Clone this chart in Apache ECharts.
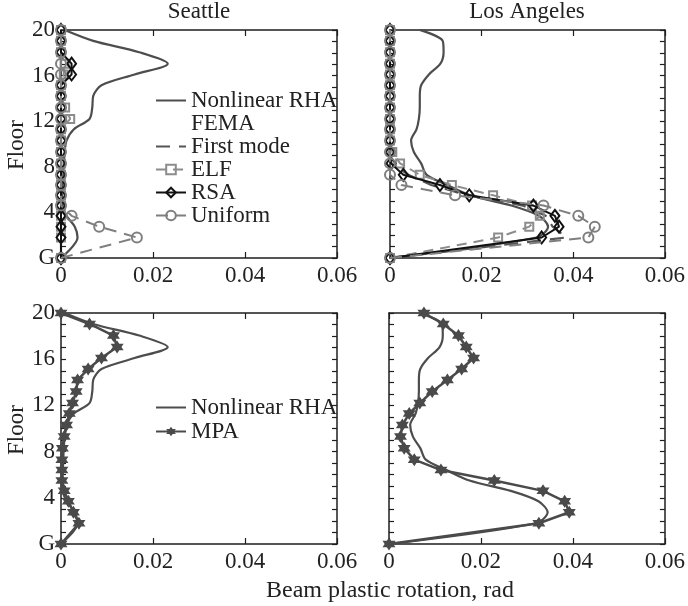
<!DOCTYPE html>
<html><head><meta charset="utf-8">
<script src="https://cdn.jsdelivr.net/npm/echarts@6/dist/echarts.min.js"></script>
<style>html,body{margin:0;padding:0;background:#fff}#c{width:688px;height:606px}</style>
</head><body><div id="c"></div>
<script>
// Floor levels (G = 0 ... 20), index 0..20
const LEVELS = [0, 1.8, 2.75, 3.7, 4.6, 5.5, 6.4, 7.3, 8.3, 9.3, 10.3, 11.3, 12.2, 13.2, 14.2, 15.15, 16.1, 17.05, 18.05, 19.05, 20];
const X_TICKS = [0, 0.02, 0.04, 0.06];
const Y_TICK_LABELS = ['G', '4', '8', '12', '16', '20'];
const PANEL_TITLES = ['Seattle', 'Los Angeles'];

// Seattle
const seaRHA     = [0, 0.0036, 0.0030, 0.0012, 0.0004, 0.0003, 0.0004, 0.0005, 0.0006, 0.0008, 0.0012, 0.0028, 0.0062, 0.0068, 0.0070, 0.0088, 0.0160, 0.0232, 0.0170, 0.0070, 0.0008];
const seaFirst   = [0, 0, 0, 0, 0, 0, 0, 0, 0, 0, 0, 0, 0, 0, 0, 0, 0, 0, 0, 0, 0];
const seaELF     = [0, 0, 0, 0, 0, 0, 0, 0, 0, 0, 0, 0, 0.0020, 0.0009, 0, 0, 0.0006, 0.0008, 0, 0, 0];
const seaRSA     = [0, 0, 0, 0, 0, 0, 0, 0, 0, 0, 0, 0, 0, 0, 0, 0, 0.0023, 0.0023, 0, 0, 0];
const seaUniform = [0, 0.0165, 0.0083, 0.0023, 0, 0, 0, 0, 0, 0, 0, 0, 0, 0, 0, 0, 0, 0, 0, 0, 0];
const seaMPA     = [0, 0.0039, 0.0027, 0.0016, 0.0007, 0.0002, 0.0002, 0.0002, 0.0003, 0.0007, 0.0012, 0.0018, 0.0025, 0.0033, 0.0036, 0.0059, 0.0088, 0.0122, 0.0114, 0.0062, 0];

// Los Angeles
const laRHA     = [0, 0.0320, 0.0345, 0.0325, 0.0265, 0.0175, 0.0125, 0.0080, 0.0068, 0.0052, 0.0046, 0.0058, 0.0063, 0.0065, 0.0065, 0.0068, 0.0085, 0.0110, 0.0117, 0.0115, 0.0065];
const laFirst   = [0, 0.0385, 0.0355, 0.0340, 0.0290, 0.0170, 0.0090, 0.0040, 0.0003, 0, 0, 0, 0, 0, 0, 0, 0, 0, 0, 0, 0];
const laELF     = [0, 0.0236, 0.0304, 0.0327, 0.0310, 0.0225, 0.0135, 0.0065, 0.0022, 0.0005, 0, 0, 0, 0, 0, 0, 0, 0, 0, 0, 0];
const laRSA     = [0, 0.0331, 0.0369, 0.0360, 0.0313, 0.0173, 0.0109, 0.0029, 0.0002, 0, 0, 0, 0, 0, 0, 0, 0, 0, 0, 0, 0];
const laUniform = [0, 0.0433, 0.0447, 0.0411, 0.0335, 0.0142, 0.0025, 0, 0, 0, 0, 0, 0, 0, 0, 0, 0, 0, 0, 0, 0];
const laMPA     = [0, 0.0326, 0.0392, 0.0382, 0.0335, 0.0229, 0.0113, 0.0055, 0.0033, 0.0025, 0.0029, 0.0044, 0.0067, 0.0094, 0.0127, 0.0158, 0.0184, 0.0168, 0.0151, 0.0118, 0.0076];

const FONT = '"Liberation Serif", "Times New Roman", serif';
const FS = 23;
const AX = '#1e1e1e';
const STAR = 'path://M0,-10L2.89,-5L8.66,-5L5.77,0L8.66,5L2.89,5L0,10L-2.89,5L-8.66,5L-5.77,0L-8.66,-5L-2.89,-5Z';

const grids = [
  {left: 61, top: 30, width: 276, height: 228},
  {left: 390, top: 30, width: 275, height: 228},
  {left: 61, top: 313, width: 276, height: 231},
  {left: 389, top: 313, width: 277, height: 231}
];

const xAxes = [], yAxes = [];
grids.forEach((g, i) => {
  const base = {
    type: 'value', gridIndex: i, min: 0, max: 0.06, interval: 0.02,
    axisLine: {show: true, onZero: false, lineStyle: {color: AX, width: 1.5}},
    axisTick: {show: true, inside: true, length: 6, lineStyle: {color: AX, width: 1.2}},
    splitLine: {show: false}
  };
  xAxes.push(Object.assign({}, base, {position: 'bottom',
    axisLabel: {show: true, margin: 6, fontFamily: FONT, fontSize: FS, color: '#222',
      formatter: v => { const k = X_TICKS.findIndex(t => Math.abs(t - v) < 1e-9); return k === 0 ? '0' : X_TICKS[k].toFixed(2); }}}));
  xAxes.push(Object.assign({}, base, {position: 'top', axisLabel: {show: false}}));
  const ybase = {
    type: 'value', gridIndex: i, min: 0, max: 20, interval: 4,
    axisLine: {show: true, onZero: false, lineStyle: {color: AX, width: 1.5}},
    axisTick: {show: true, inside: true, length: 5, lineStyle: {color: AX, width: 1.2}},
    minorTick: {show: true, splitNumber: 4, length: 5, lineStyle: {color: AX, width: 1.2}},
    splitLine: {show: false}, minorSplitLine: {show: false}
  };
  yAxes.push(Object.assign({}, ybase, {position: 'left',
    axisLabel: {show: i % 2 === 0, margin: 6, fontFamily: FONT, fontSize: FS, color: '#222',
      formatter: v => Y_TICK_LABELS[Math.round(v / 4)]}}));
  yAxes.push(Object.assign({}, ybase, {position: 'right', axisLabel: {show: false}}));
});

function pts(vals) { return vals.map((v, i) => [v, LEVELS[i]]); }

function rha(vals, g) {
  return {name: 'Nonlinear RHA', type: 'line', xAxisIndex: 2 * g, yAxisIndex: 2 * g, data: pts(vals),
    smooth: 0.3, symbol: 'none', lineStyle: {color: '#4d4d4d', width: 2.2}, itemStyle: {color: '#4d4d4d'}, z: 2};
}
function first(vals, g) {
  return {name: 'First mode', type: 'line', xAxisIndex: 2 * g, yAxisIndex: 2 * g, data: pts(vals),
    symbol: 'none', lineStyle: {color: '#555', width: 2.2, type: [14, 9]}, itemStyle: {color: '#555'}, z: 3};
}
function elf(vals, g) {
  return {name: 'ELF', type: 'line', xAxisIndex: 2 * g, yAxisIndex: 2 * g, data: pts(vals),
    symbol: 'rect', symbolSize: 8, lineStyle: {color: '#8c8c8c', width: 2, type: [10, 7]},
    itemStyle: {color: 'rgba(255,255,255,0)', borderColor: '#8c8c8c', borderWidth: 2}, z: 4};
}
function rsa(vals, g) {
  return {name: 'RSA', type: 'line', xAxisIndex: 2 * g, yAxisIndex: 2 * g, data: pts(vals),
    symbol: 'diamond', symbolSize: [9, 12], lineStyle: {color: '#111', width: 2},
    itemStyle: {color: 'rgba(255,255,255,0)', borderColor: '#111', borderWidth: 2}, z: 5};
}
function uni(vals, g) {
  return {name: 'Uniform', type: 'line', xAxisIndex: 2 * g, yAxisIndex: 2 * g, data: pts(vals),
    symbol: 'circle', symbolSize: 10, lineStyle: {color: '#7f7f7f', width: 2, type: [12, 8]},
    itemStyle: {color: 'rgba(255,255,255,0)', borderColor: '#7f7f7f', borderWidth: 2}, z: 6};
}
function mpa(vals, g) {
  return {name: 'MPA', type: 'line', xAxisIndex: 2 * g, yAxisIndex: 2 * g, data: pts(vals),
    symbol: STAR, symbolSize: 13, lineStyle: {color: '#4a4a4a', width: 2.5},
    itemStyle: {color: '#4a4a4a'}, z: 4};
}

const series = [
  rha(seaRHA, 0),
  {name: 'FEMA', type: 'line', xAxisIndex: 0, yAxisIndex: 0, data: [], symbol: 'none',
    lineStyle: {opacity: 0}, itemStyle: {opacity: 0}},
  first(seaFirst, 0), elf(seaELF, 0), rsa(seaRSA, 0), uni(seaUniform, 0),
  rha(laRHA, 1), first(laFirst, 1), elf(laELF, 1), rsa(laRSA, 1), uni(laUniform, 1),
  rha(seaRHA, 2), mpa(seaMPA, 2),
  rha(laRHA, 3), mpa(laMPA, 3)
];

const legendText = {fontFamily: FONT, fontSize: FS, color: '#222', lineHeight: 23};
const HIDE = {opacity: 0};
const TF = FS + 'px "Liberation Serif", "Times New Roman", serif';
const option = {
  animation: false,
  backgroundColor: '#fff',
  grid: grids,
  xAxis: xAxes,
  yAxis: yAxes,
  legend: [
    {orient: 'vertical', left: 155, top: 89, itemWidth: 30, itemHeight: 12, itemGap: 0, itemTextGap: 5,
     selectedMode: false, textStyle: legendText, padding: 0,
     data: [{name: 'Nonlinear RHA', itemStyle: HIDE}, {name: 'FEMA', itemStyle: HIDE},
            {name: 'First mode', itemStyle: HIDE}, 'ELF', 'RSA', 'Uniform']},
    {orient: 'vertical', left: 155, top: 396, itemWidth: 30, itemHeight: 12, itemGap: 1, itemTextGap: 5,
     selectedMode: false, textStyle: legendText, padding: 0,
     data: [{name: 'Nonlinear RHA', itemStyle: HIDE}, 'MPA']}
  ],
  graphic: [
    {type: 'text', x: 199, y: 12, style: {text: PANEL_TITLES[0], font: TF, fill: '#222', align: 'center', verticalAlign: 'middle'}},
    {type: 'text', x: 527, y: 12, style: {text: PANEL_TITLES[1], font: TF, fill: '#222', align: 'center', verticalAlign: 'middle'}},
    {type: 'text', x: 17, y: 145, rotation: Math.PI / 2, style: {text: 'Floor', font: TF, fill: '#222', align: 'center', verticalAlign: 'middle'}},
    {type: 'text', x: 17, y: 430, rotation: Math.PI / 2, style: {text: 'Floor', font: TF, fill: '#222', align: 'center', verticalAlign: 'middle'}},
    {type: 'text', x: 390, y: 591, style: {text: 'Beam plastic rotation, rad', font: '24px "Liberation Serif", "Times New Roman", serif', fill: '#222', align: 'center', verticalAlign: 'middle'}}
  ],
  series: series
};
const chart = echarts.init(document.getElementById('c'), null, {renderer: 'canvas'});
chart.setOption(option);
</script></body></html>
